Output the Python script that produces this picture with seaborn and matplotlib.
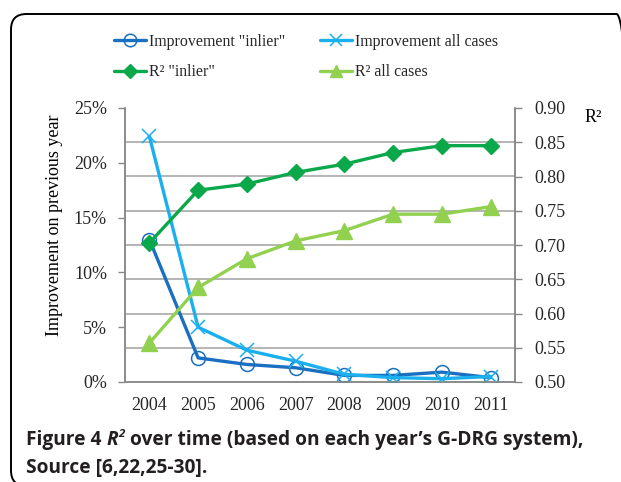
import matplotlib
matplotlib.use('Agg')
import matplotlib.pyplot as plt
import seaborn as sns
import pandas as pd
from matplotlib.patches import FancyBboxPatch
from matplotlib.lines import Line2D
from matplotlib.ticker import FixedLocator, FuncFormatter, NullFormatter

years = ['2004', '2005', '2006', '2007', '2008', '2009', '2010', '2011']
impr_inlier = [13.0, 2.2, 1.6, 1.3, 0.6, 0.6, 0.9, 0.4]
impr_all = [22.4, 5.0, 2.9, 1.9, 0.7, 0.4, 0.3, 0.5]
r2_inlier = [0.703, 0.780, 0.789, 0.806, 0.818, 0.835, 0.845, 0.845]
r2_all = [0.557, 0.638, 0.680, 0.706, 0.721, 0.745, 0.745, 0.756]
left_ticks = [0, 5, 10, 15, 20, 25]
right_ticks = [0.50, 0.55, 0.60, 0.65, 0.70, 0.75, 0.80, 0.85, 0.90]

labels = ['Improvement "inlier"', 'Improvement all cases', 'R² "inlier"', 'R² all cases']
c_dark, c_cyan, c_green, c_lgreen = '#1a6fc0', '#1ab0ee', '#0aa84a', '#92d050'

sns.set_theme(style='white')
plt.rcParams['font.family'] = ['Liberation Serif', 'DejaVu Serif']
FS = 13

fig = plt.figure(figsize=(6.21, 4.82), dpi=100)
ax = fig.add_axes([125/621, 1-382/482, 390/621, 274/482])
ax2 = ax.twinx()

pos = list(range(len(years)))
df = pd.DataFrame({'pos': pos, 'ii': impr_inlier, 'ia': impr_all, 'ri': r2_inlier, 'ra': r2_all})

lw = 2.4
sns.lineplot(data=df, x='pos', y='ii', ax=ax, color=c_dark, lw=lw, marker='o', markersize=10,
             markerfacecolor='none', markeredgecolor=c_dark, markeredgewidth=1.1, zorder=3)
sns.lineplot(data=df, x='pos', y='ia', ax=ax, color=c_cyan, lw=lw, marker='x', markersize=10,
             markeredgecolor=c_cyan, markeredgewidth=1.1, zorder=4)
sns.lineplot(data=df, x='pos', y='ri', ax=ax2, color=c_green, lw=lw, marker='D', markersize=8,
             markeredgecolor=c_green, markerfacecolor=c_green, markeredgewidth=1, zorder=3)
sns.lineplot(data=df, x='pos', y='ra', ax=ax2, color=c_lgreen, lw=lw, marker='^', markersize=11,
             markeredgecolor=c_lgreen, markerfacecolor=c_lgreen, markeredgewidth=1, zorder=3)

ax.set_xlim(-0.5, len(years) - 0.5)
ax.set_ylim(left_ticks[0], left_ticks[-1])
ax2.set_ylim(right_ticks[0], right_ticks[-1])

# gridlines behind lines, at right-axis tick positions
span_l = left_ticks[-1] - left_ticks[0]
span_r = right_ticks[-1] - right_ticks[0]
grid_vals = [left_ticks[0] + (t - right_ticks[0]) / span_r * span_l for t in right_ticks[1:-1]]
for g in grid_vals:
    ax.axhline(g, color='#a0a0a0', lw=1.1, zorder=1)

ax.set_yticks(left_ticks)
ax.yaxis.set_major_formatter(FuncFormatter(lambda v, p: f'{v:.0f}%'))
ax2.set_yticks(right_ticks)
ax2.yaxis.set_major_formatter(FuncFormatter(lambda v, p: f'{v:.2f}'))

ax.xaxis.set_major_locator(FixedLocator([p - 0.5 for p in pos] + [pos[-1] + 0.5]))
ax.xaxis.set_major_formatter(NullFormatter())
ax.set_xticks(pos, minor=True)
ax.set_xticklabels(years, minor=True)
ax.tick_params(axis='x', which='minor', length=0, pad=11, labelsize=FS)
ax.tick_params(axis='x', which='major', length=5, width=1, color='#888888', direction='out')
ax.tick_params(axis='y', length=5, width=1, color='#888888', direction='out', pad=8, labelsize=FS, left=True)
ax2.tick_params(axis='y', length=5, width=1, color='#888888', direction='out', pad=9, labelsize=FS, right=True)

for a in (ax, ax2):
    a.set_xlabel('')
    a.set_ylabel('')
    a.spines['top'].set_visible(False)
    for s in ('left', 'right', 'bottom'):
        a.spines[s].set_color('#888888')
        a.spines[s].set_linewidth(1.1)
    a.patch.set_visible(False)

fig.text(55/621, 1-225/482, 'Improvement on previous year', rotation=90, ha='center', va='center',
         fontsize=FS, color='black')
fig.text(593/621, 1-117/482, 'R²', ha='center', va='center', fontsize=FS, color='black')

h_ii = Line2D([], [], color=c_dark, lw=lw, marker='o', markersize=9, markerfacecolor='none', markeredgecolor=c_dark, markeredgewidth=1.1)
h_ia = Line2D([], [], color=c_cyan, lw=lw, marker='x', markersize=9, markeredgecolor=c_cyan, markeredgewidth=1.1)
h_ri = Line2D([], [], color=c_green, lw=lw, marker='D', markersize=7, markeredgecolor=c_green, markerfacecolor=c_green)
h_ra = Line2D([], [], color=c_lgreen, lw=lw, marker='^', markersize=9, markeredgecolor=c_lgreen, markerfacecolor=c_lgreen)
# ncol=2 fills column-wise: order so rows read (Impr inlier, Impr all), (R2 inlier, R2 all)
fig.legend([h_ii, h_ri, h_ia, h_ra], [labels[0], labels[2], labels[1], labels[3]], ncol=2,
           loc='upper center', bbox_to_anchor=(306/621, 1-34/482),
           frameon=False, fontsize=11.4, handlelength=2.0, handletextpad=0.2, columnspacing=2.2,
           labelspacing=0.9, borderaxespad=0, borderpad=0)

# border box (bottom edge falls just outside the image)
box = FancyBboxPatch((11/621, -4/482), 1.0, 1 - 10/482, transform=fig.transFigure,
                     boxstyle='round,pad=0,rounding_size=0.025', fc='none', ec='black', lw=1.4,
                     mutation_aspect=621/482)
fig.patches.append(box)

cap_font = ['Open Sans', 'DejaVu Sans']
cap_color = '#231f20'
cfs = 13.75
t1 = fig.text(26/621, 1-445/482, 'Figure 4 ', fontsize=cfs, fontweight='bold', family=cap_font,
              va='baseline', ha='left', color=cap_color)
an2 = ax2.annotate('R', xy=(1, 0), xycoords=t1, va='bottom', ha='left', fontsize=cfs, fontweight='bold',
                   style='italic', family=cap_font, annotation_clip=False, color=cap_color)
an3 = ax2.annotate('2', xy=(1, 1), xycoords=an2, xytext=(0.3, -7), textcoords='offset points', va='bottom', ha='left',
                   fontsize=cfs*0.6, fontweight='bold', style='italic', family=cap_font, annotation_clip=False,
                   color=cap_color)
an4 = ax2.annotate(' over time (based on each year\u2019s G-DRG system),', xy=(1, 0), xycoords=an2, xytext=(5, 0),
                   textcoords='offset points', va='bottom', ha='left', fontsize=cfs, fontweight='bold',
                   family=cap_font, annotation_clip=False, color=cap_color)
fig.text(26/621, 1-473/482, 'Source [6,22,25-30].', fontsize=cfs, fontweight='bold', family=cap_font,
         va='baseline', ha='left', color=cap_color)

fig.savefig('out.png', dpi=100)
